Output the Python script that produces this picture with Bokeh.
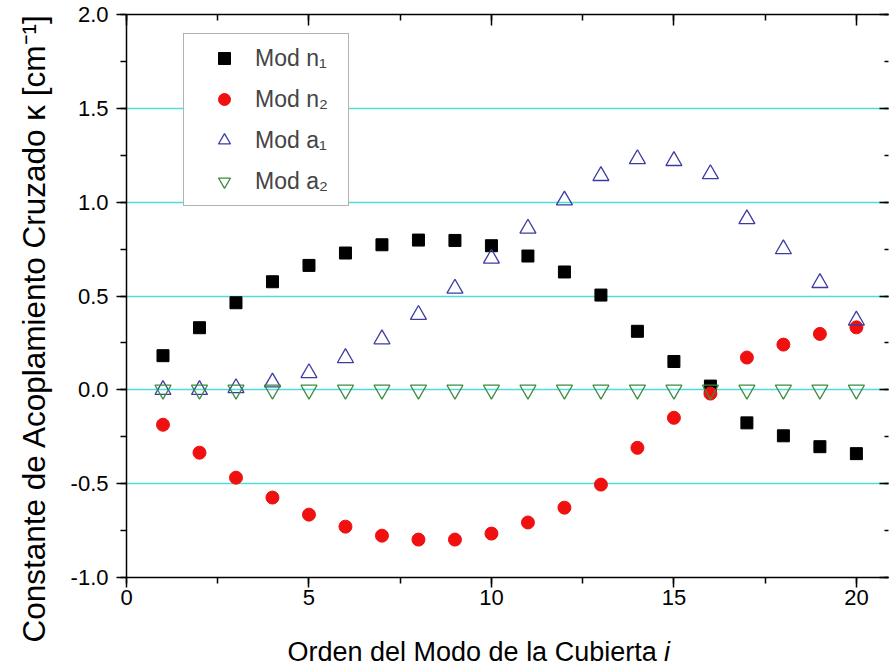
from bokeh.embed import file_html
from bokeh.models import (CustomJSTickFormatter, Label, Legend, LegendItem,
                          LinearAxis, PrintfTickFormatter, Range1d,
                          SingleIntervalTicker, Title)
from bokeh.plotting import figure
from bokeh.resources import INLINE

# Cladding-mode order and cross-coupling constants (cm^-1)
modo = [1, 2, 3, 4, 5, 6, 7, 8, 9, 10, 11, 12, 13, 14, 15, 16, 17, 18, 19, 20]
mod_n1 = [0.182, 0.331, 0.464, 0.576, 0.663, 0.729, 0.773, 0.798, 0.796, 0.768,
          0.713, 0.628, 0.505, 0.312, 0.151, 0.02, -0.176, -0.245, -0.303, -0.34]
mod_n2 = [-0.186, -0.335, -0.468, -0.574, -0.665, -0.729, -0.777, -0.798, -0.798, -0.766,
          -0.707, -0.628, -0.505, -0.309, -0.149, -0.02, 0.172, 0.241, 0.298, 0.333]
mod_a1 = [0.0, 0.0, 0.01, 0.04, 0.09, 0.17, 0.27, 0.40, 0.54, 0.70,
          0.86, 1.01, 1.14, 1.23, 1.22, 1.15, 0.91, 0.75, 0.57, 0.37]
mod_a2 = [0.0, 0.0, 0.0, 0.0, 0.0, 0.0, 0.0, 0.0, 0.0, 0.0,
          0.0, 0.0, 0.0, 0.0, 0.0, 0.0, 0.0, 0.0, 0.0, 0.0]

FONT = "Liberation Sans"

p = figure(width=889, height=667, output_backend="svg", toolbar_location=None,
           x_range=Range1d(0, 20.88), y_range=Range1d(-1.0, 2.0),
           min_border_left=126, min_border_right=1, min_border_top=14,
           min_border_bottom=89)
p.outline_line_color = None
p.background_fill_color = "white"
p.border_fill_color = "white"

xticker = SingleIntervalTicker(interval=5, num_minor_ticks=2)
yticker = SingleIntervalTicker(interval=0.5, num_minor_ticks=2)

for ax in (p.xaxis[0], p.yaxis[0]):
    ax.axis_line_width = 1.5
    ax.axis_line_color = "black"
    ax.major_tick_line_width = 1.5
    ax.minor_tick_line_width = 1.5
    ax.major_tick_in = 0
    ax.major_tick_out = 10
    ax.minor_tick_in = 0
    ax.minor_tick_out = 6
    ax.major_label_text_font = FONT
    ax.major_label_text_font_size = "22px"
    ax.major_label_text_color = "black"

p.xaxis[0].major_label_standoff = 2
p.yaxis[0].major_label_standoff = 8
p.xaxis[0].ticker = xticker
p.yaxis[0].ticker = yticker
p.yaxis[0].formatter = PrintfTickFormatter(format="%.1f")

blank = CustomJSTickFormatter(code="return ''")
top = LinearAxis(ticker=xticker, formatter=blank, major_tick_in=11, major_tick_out=0,
                 minor_tick_in=6, minor_tick_out=0, axis_line_width=1.5,
                 major_tick_line_width=1.5, minor_tick_line_width=1.5,
                 major_label_standoff=0)
right = LinearAxis(ticker=yticker, formatter=blank, major_tick_in=9, major_tick_out=0,
                   minor_tick_in=4, minor_tick_out=0, axis_line_color=None,
                   major_tick_line_width=1.5, minor_tick_line_width=1.5,
                   major_label_standoff=0)
p.add_layout(top, "above")
p.add_layout(right, "right")

p.xgrid.visible = False
p.ygrid.ticker = yticker
p.ygrid.grid_line_color = "#4fdcdc"
p.ygrid.grid_line_width = 1.5

r_n1 = p.scatter(modo, mod_n1, marker="square", size=12, fill_color="black",
                 line_color="black")
r_n2 = p.scatter(modo, mod_n2, marker="circle", size=13, fill_color="#f01010",
                 line_color="#f01010")
r_a1 = p.scatter(modo, mod_a1, marker="triangle", size=16, fill_color=None,
                 line_color="#3c3ca0", line_width=1.3)
r_a2 = p.scatter(modo, mod_a2, marker="inverted_triangle", size=16, fill_color=None,
                 line_color="#3f8a3f", line_width=1.3)

legend = Legend(items=[
    LegendItem(label="Mod n\u2081", renderers=[r_n1]),
    LegendItem(label="Mod n\u2082", renderers=[r_n2]),
    LegendItem(label="Mod a\u2081", renderers=[r_a1]),
    LegendItem(label="Mod a\u2082", renderers=[r_a2]),
], location=(57, 371), margin=0, padding=9, spacing=11,
    glyph_width=62, glyph_height=30, label_height=30, label_width=84,
    label_standoff=0, label_text_font=FONT, label_text_font_size="23px",
    border_line_color="#666666", border_line_width=1,
    background_fill_color="white", background_fill_alpha=1.0)
p.add_layout(legend, "center")

# y title: starts a little below the frame's bottom edge and reads upwards
ytitle = Title(text="Constante de Acoplamiento Cruzado \u03ba [cm\u207b\u00b9]",
               align="left", vertical_align="top", offset=-65, standoff=28,
               text_font=FONT, text_font_size="31.5px", text_font_style="normal",
               text_color="black")
p.add_layout(ytitle, "left")

# x title: plain words, then the mode index in italics on the same line
xtitle = Label(x=4.411, y=-1.395, text="Orden del Modo de la Cubierta",
               text_align="left", text_baseline="middle",
               text_font=FONT, text_font_size="27px", text_color="black")
xindex = Label(x=14.73, y=-1.395, text="i", text_font_style="italic",
               text_align="left", text_baseline="middle",
               text_font=FONT, text_font_size="27px", text_color="black")
p.add_layout(xtitle, "below")
p.add_layout(xindex, "below")

open("out.html", "w").write(file_html(p, INLINE))
